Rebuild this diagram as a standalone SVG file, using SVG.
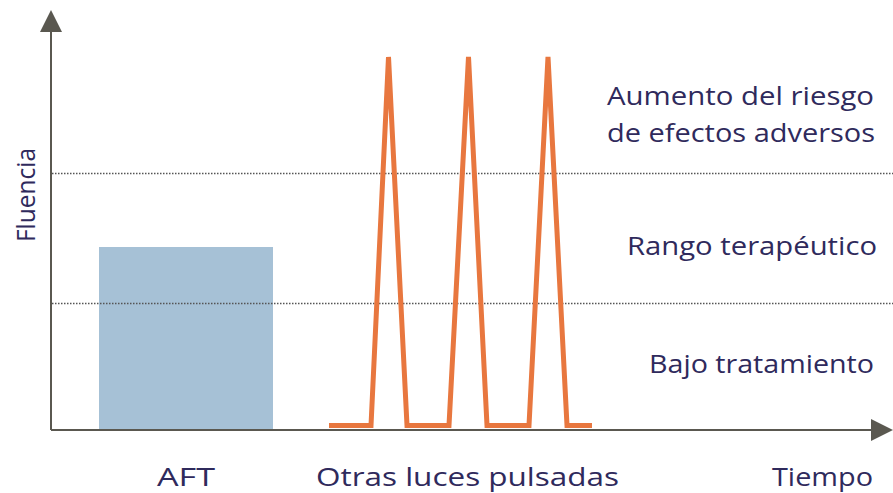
<svg xmlns="http://www.w3.org/2000/svg" width="893" height="493" viewBox="0 0 893 493">
<style>
.lbl{font-family:"Open Sans","Noto Sans","Liberation Sans",sans-serif;font-size:25px;fill:#2f2a5c}
.axis{stroke:#5a5850;stroke-width:2;fill:none}
.dot{stroke:#555;stroke-width:1.3;stroke-dasharray:1.5 1.5;fill:none}
</style>
<defs>
<marker id="ah" viewBox="0 0 22 22" refX="0" refY="11" markerWidth="22" markerHeight="22" markerUnits="userSpaceOnUse" orient="auto">
<path d="M0,0 L22,11 L0,22 Z" fill="#5a5850"/>
</marker>
</defs>
<rect width="893" height="493" fill="#fff"/>
<g id="aft-bar"><rect x="99" y="247" width="174" height="183" fill="#a6c1d6"/></g>
<g id="bands">
<line class="dot" x1="52" y1="173.5" x2="893" y2="173.5"/>
<line class="dot" x1="52" y1="303.5" x2="893" y2="303.5"/>
</g>
<g id="pulses">
<polyline points="329,425.5 371,425.5 388.5,57 407,425.5 449,425.5 468.5,57 487,425.5 529,425.5 548,57 567,425.5 592,425.5" fill="none" stroke="#e8773f" stroke-width="5" stroke-linejoin="miter"/>
</g>
<g id="connectors">
<line class="axis" x1="51" y1="430" x2="51" y2="32" marker-end="url(#ah)"/>
<line class="axis" x1="51" y1="430" x2="871" y2="430" marker-end="url(#ah)"/>
</g>
<g id="labels">
<text class="lbl" x="607" y="105" textLength="267" lengthAdjust="spacingAndGlyphs">Aumento del riesgo</text>
<text class="lbl" x="607" y="142" textLength="268" lengthAdjust="spacingAndGlyphs">de efectos adversos</text>
<text class="lbl" x="627" y="255" textLength="250" lengthAdjust="spacingAndGlyphs">Rango terapéutico</text>
<text class="lbl" x="649" y="373" textLength="225" lengthAdjust="spacingAndGlyphs">Bajo tratamiento</text>
<text class="lbl" x="157" y="486" textLength="58" lengthAdjust="spacingAndGlyphs">AFT</text>
<text class="lbl" x="316" y="486" textLength="303" lengthAdjust="spacingAndGlyphs">Otras luces pulsadas</text>
<text class="lbl" x="772" y="486" textLength="101" lengthAdjust="spacingAndGlyphs">Tiempo</text>
<text class="lbl" transform="translate(35,242) rotate(-90)" x="0" y="0" textLength="94" lengthAdjust="spacingAndGlyphs">Fluencia</text>
</g>
</svg>
